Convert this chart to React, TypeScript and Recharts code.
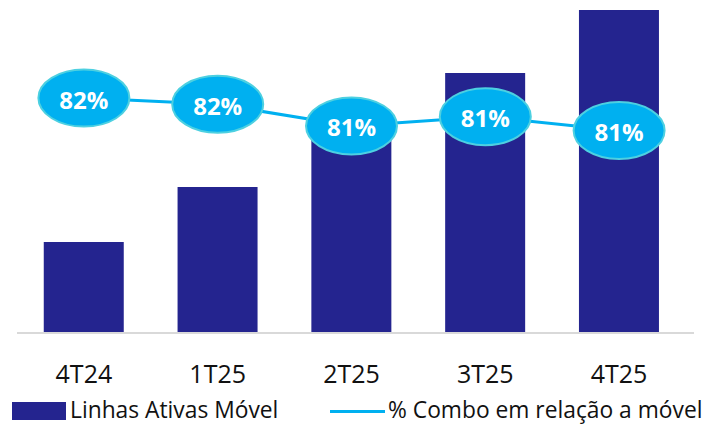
import React from 'react';
import { Bar, ComposedChart, LabelList, Legend, Line, XAxis, YAxis } from 'recharts';

const quarters = ['4T24', '1T25', '2T25', '3T25', '4T25'];
const linhasAtivas = [91, 146, 203, 260, 323];
const comboPct = [82.0, 81.8, 81.1, 81.4, 80.95];

const data = quarters.map((q, i) => ({ q, linhas: linhasAtivas[i], combo: comboPct[i] }));

const BAR_COLOR = '#24248F';
const LINE_COLOR = '#00B0F0';
const FONT = '"Open Sans", "Noto Sans", sans-serif';

const BubbleLabel = (props: any) => {
  const { x, y, value } = props;
  return (
    <g>
      <ellipse cx={x} cy={y} rx={45.5} ry={28.5} fill={LINE_COLOR} stroke="#4DD0E1" strokeWidth={2} />
      <text
        x={x}
        y={y + 1}
        textAnchor="middle"
        dominantBaseline="central"
        fill="#ffffff"
        fontSize={24}
        fontWeight={700}
        fontFamily={FONT}
      >
        {Math.round(value)}%
      </text>
    </g>
  );
};

const LegendBox = () => (
  <div
    style={{
      position: 'relative',
      height: 28,
      fontFamily: FONT,
      fontSize: 22.8,
      color: '#111',
      whiteSpace: 'nowrap',
    }}
  >
    <div style={{ position: 'absolute', left: 4, top: 5, width: 54, height: 18, background: BAR_COLOR }} />
    <span style={{ position: 'absolute', left: 62, top: -2, lineHeight: '30px' }}>Linhas Ativas Móvel</span>
    <div style={{ position: 'absolute', left: 322, top: 13, width: 55, height: 3, background: LINE_COLOR }} />
    <span style={{ position: 'absolute', left: 380, top: -2, lineHeight: '30px' }}>% Combo em relação a móvel</span>
  </div>
);

export default function App() {
  return (
    <ComposedChart
      width={700}
      height={417}
      data={data}
      margin={{ top: 2, right: 14, left: 9, bottom: 0 }}
      barCategoryGap="20%"
    >
      <XAxis
        dataKey="q"
        axisLine={{ stroke: '#D9D9D9', strokeWidth: 2 }}
        tickLine={false}
        tickSize={0}
        tickMargin={32}
        height={64}
        padding={{ left: 0, right: 8 }}
        tick={{ fill: '#111', fontSize: 25, fontFamily: FONT }}
      />
      <YAxis yAxisId="bars" hide domain={[0, 323]} />
      <YAxis yAxisId="pct" hide orientation="right" domain={[74.4, 84.85]} />
      <Bar yAxisId="bars" dataKey="linhas" fill={BAR_COLOR} isAnimationActive={false} />
      <Line
        yAxisId="pct"
        type="linear"
        dataKey="combo"
        stroke={LINE_COLOR}
        strokeWidth={3}
        dot={false}
        activeDot={false}
        isAnimationActive={false}
      >
        <LabelList dataKey="combo" content={BubbleLabel} />
      </Line>
      <Legend verticalAlign="bottom" content={LegendBox} wrapperStyle={{ left: 0, width: 700 }} />
    </ComposedChart>
  );
}
